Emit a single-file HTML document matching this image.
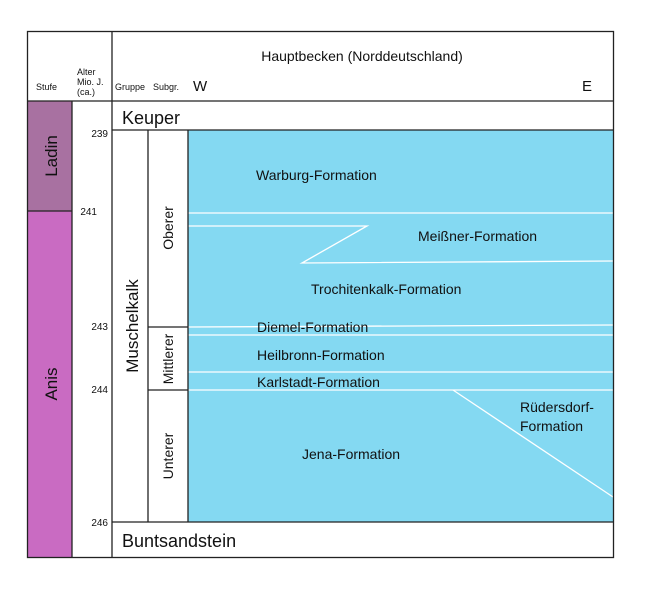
<!DOCTYPE html>
<html><head><meta charset="utf-8"><style>body{margin:0;background:#fff}svg{display:block}</style></head><body>
<svg width="652" height="599" viewBox="0 0 652 599" xmlns="http://www.w3.org/2000/svg" font-family="Liberation Sans, sans-serif">
<rect x="0" y="0" width="652" height="599" fill="#fff"/>
<rect x="28" y="101" width="44" height="110" fill="#a871a1"/>
<rect x="28" y="211" width="44" height="346" fill="#c96bc2"/>
<rect x="188" y="130" width="425" height="392" fill="#84d9f2"/>
<g stroke="#fff" stroke-width="1.3" fill="none">
<line x1="188" y1="213" x2="613" y2="213"/>
<polyline points="188,226 367,226 302,263 613,261"/>
<line x1="188" y1="327" x2="613" y2="325"/>
<line x1="188" y1="335" x2="613" y2="335"/>
<line x1="188" y1="372" x2="613" y2="372"/>
<line x1="188" y1="390" x2="613" y2="390"/>
<line x1="453" y1="390" x2="613" y2="497"/>
</g>
<g stroke="#222" stroke-width="1.3" fill="none">
<rect x="27.5" y="31.5" width="586" height="526"/>
<line x1="27" y1="101" x2="613" y2="101"/>
<line x1="72" y1="101" x2="72" y2="557"/>
<line x1="112" y1="31" x2="112" y2="557"/>
<line x1="112" y1="130" x2="613" y2="130"/>
<line x1="112" y1="522" x2="613" y2="522"/>
<line x1="28" y1="211" x2="72" y2="211"/>
<line x1="148" y1="130" x2="148" y2="522"/>
<line x1="188" y1="130" x2="188" y2="522"/>
<line x1="148" y1="327" x2="188" y2="327"/>
<line x1="148" y1="390" x2="188" y2="390"/>
</g>
<g fill="#111">
<text x="36" y="90" font-size="9">Stufe</text>
<text x="77" y="75" font-size="9">Alter</text>
<text x="77" y="85" font-size="9">Mio. J.</text>
<text x="77" y="95" font-size="9">(ca.)</text>
<text x="115" y="90" font-size="9">Gruppe</text>
<text x="153" y="90" font-size="9">Subgr.</text>
<text x="193" y="91" font-size="15">W</text>
<text x="582" y="91" font-size="15">E</text>
<text x="362" y="61" font-size="14" text-anchor="middle">Hauptbecken (Norddeutschland)</text>
<text x="122" y="124" font-size="18">Keuper</text>
<text x="122" y="547" font-size="18">Buntsandstein</text>
<g font-size="10" text-anchor="end"><text x="108" y="137">239</text><text x="97" y="215">241</text><text x="108" y="330">243</text><text x="108" y="393">244</text><text x="108" y="526">246</text></g>
<text transform="translate(57,156) rotate(-90)" font-size="17" text-anchor="middle">Ladin</text>
<text transform="translate(57,384) rotate(-90)" font-size="17" text-anchor="middle">Anis</text>
<text transform="translate(138,326) rotate(-90)" font-size="17" text-anchor="middle">Muschelkalk</text>
<text transform="translate(173,228) rotate(-90)" font-size="14" text-anchor="middle">Oberer</text>
<text transform="translate(173,359) rotate(-90)" font-size="14" text-anchor="middle">Mittlerer</text>
<text transform="translate(173,456) rotate(-90)" font-size="14" text-anchor="middle">Unterer</text>
<g font-size="14">
<text x="256" y="180">Warburg-Formation</text>
<text x="418" y="241">Meißner-Formation</text>
<text x="311" y="294">Trochitenkalk-Formation</text>
<text x="257" y="332">Diemel-Formation</text>
<text x="257" y="360">Heilbronn-Formation</text>
<text x="257" y="387">Karlstadt-Formation</text>
<text x="302" y="459">Jena-Formation</text>
<text x="520" y="412">Rüdersdorf-</text>
<text x="520" y="431">Formation</text>
</g>
</g>
</svg>
</body></html>
